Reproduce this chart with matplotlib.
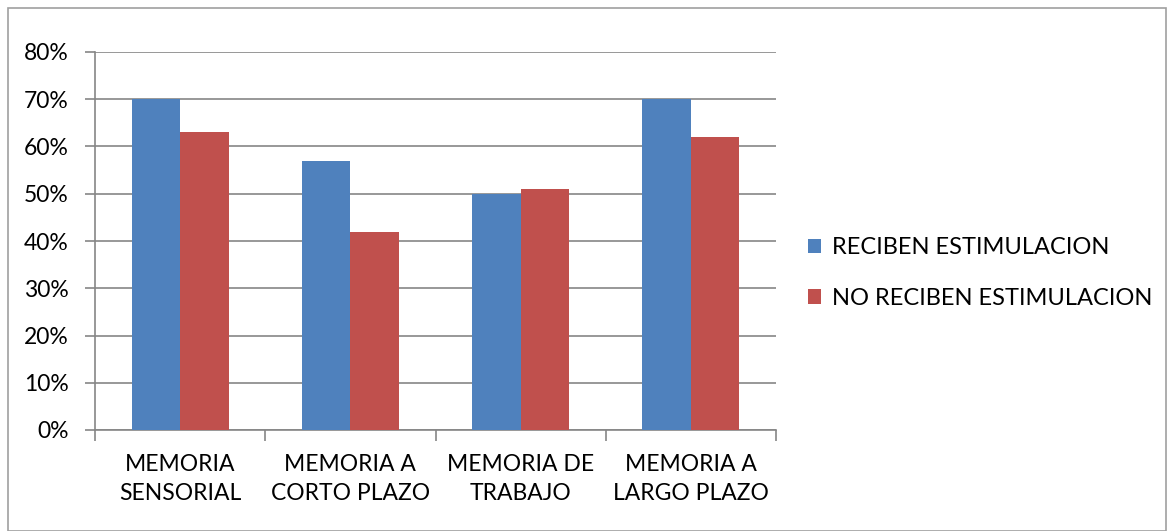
import numpy as np
import matplotlib
matplotlib.use("Agg")
import matplotlib.pyplot as plt
from matplotlib.patches import Rectangle

plt.rcParams['font.family'] = ['Lato', 'DejaVu Sans']

categories = ["MEMORIA\nSENSORIAL", "MEMORIA A\nCORTO PLAZO", "MEMORIA DE\nTRABAJO", "MEMORIA A\nLARGO PLAZO"]
reciben = [70, 57, 50, 70]
no_reciben = [63, 42, 51, 62]
yticks = [0, 10, 20, 30, 40, 50, 60, 70, 80]

fs = 16.5

fig = plt.figure(figsize=(11.74, 5.31), dpi=100)
ax = fig.add_axes([95/1174, 1-430/531, (776-95)/1174, (430-52)/531])

x = np.arange(len(categories))
w = 0.285
ax.bar(x - w/2, reciben, w, color="#4F81BD", label="RECIBEN ESTIMULACION", zorder=3)
ax.bar(x + w/2, no_reciben, w, color="#C0504D", label="NO RECIBEN ESTIMULACION", zorder=3)

ax.set_xlim(-0.5, len(categories) - 0.5)
ax.set_ylim(0, 80)
ax.set_yticks(yticks)
ax.set_yticklabels([f"{v}%" for v in yticks], fontsize=fs)
ax.yaxis.grid(True, color="#868686", linewidth=1.2, zorder=0)
ax.tick_params(axis='y', length=7, color="#868686", width=1.2, pad=12)

ax.set_xticks(np.arange(len(categories) + 1) - 0.5)
ax.set_xticklabels([])
ax.tick_params(axis='x', length=8, color="#868686", width=1.2)
ax.set_xticks(x, minor=True)
ax.set_xticklabels(categories, minor=True, fontsize=fs, linespacing=1.5)
ax.tick_params(axis='x', which='minor', length=0, pad=17)

for s in ['top', 'right']:
    ax.spines[s].set_visible(False)
for s in ['left', 'bottom']:
    ax.spines[s].set_color("#868686")
    ax.spines[s].set_linewidth(1.2)

ax.legend(loc='center left', frameon=False, fontsize=17, handlelength=0.55, handleheight=0.55,
          handletextpad=0.45, labelspacing=1.25, borderaxespad=0, borderpad=0)
leg = ax.get_legend()
leg.set_bbox_to_anchor((808/1174, 1-273/531), transform=fig.transFigure)

fig.patches.append(Rectangle((8/1174, 0.0), 1158/1174, 1 - 8/531, transform=fig.transFigure,
                             fill=False, edgecolor="#A0A0A0", linewidth=1.2))

fig.savefig("out.png", dpi=100)
